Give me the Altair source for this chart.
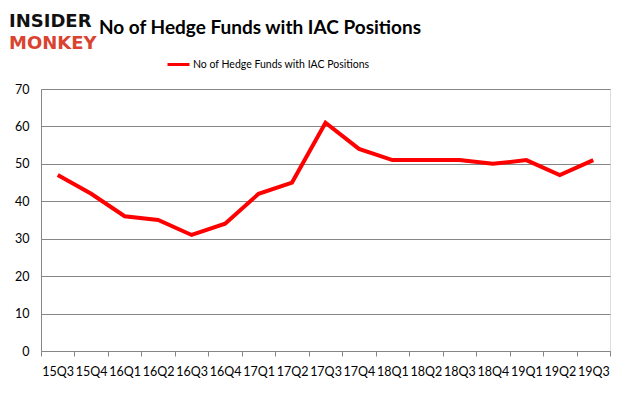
import altair as alt
import pandas as pd

quarters = ["15Q3", "15Q4", "16Q1", "16Q2", "16Q3", "16Q4", "17Q1", "17Q2", "17Q3",
            "17Q4", "18Q1", "18Q2", "18Q3", "18Q4", "19Q1", "19Q2", "19Q3"]
funds = [47, 42, 36, 35, 31, 34, 42, 45, 61, 54, 51, 51, 51, 50, 51, 47, 51]
series_name = "No of Hedge Funds with IAC Positions"
title_text = "No of Hedge Funds with IAC Positions"
y_ticks = [0, 10, 20, 30, 40, 50, 60, 70]

df = pd.DataFrame({"quarter": quarters, "funds": funds, "series": [series_name] * len(quarters)})

FONT = "Lato"

line = alt.Chart(df).mark_line(strokeWidth=4, color="#ff0000").encode(
    x=alt.X("quarter:N", sort=quarters, bandPosition=0.5,
            scale=alt.Scale(type="band", paddingInner=0, paddingOuter=0),
            axis=alt.Axis(title=None, labelAngle=0, tickBand="extent", grid=False,
                          domainColor="#868686", tickColor="#868686", tickSize=5,
                          labelPadding=9, labelFont=FONT, labelFontSize=12.5,
                          labelColor="#000000")),
    y=alt.Y("funds:Q", scale=alt.Scale(domain=[0, 70], nice=False),
            axis=alt.Axis(title=None, values=y_ticks, grid=True, gridColor="#868686",
                          domainColor="#868686", ticks=False, labelPadding=12,
                          labelFont=FONT, labelFontSize=12.5, labelColor="#000000")),
    color=alt.Color("series:N",
                    scale=alt.Scale(domain=[series_name], range=["#ff0000"]),
                    legend=alt.Legend(title=None, orient="none", legendX=125, legendY=-37,
                                      symbolType="stroke", symbolSize=484,
                                      symbolStrokeWidth=3, padding=0, symbolOffset=0,
                                      labelFont=FONT, labelFontSize=10.5, labelOffset=2,
                                      labelLimit=0, labelColor="#000000")),
)

deco = pd.DataFrame({"t": [title_text]})
title = alt.Chart(deco).mark_text(font=FONT, fontSize=19, fontWeight="bold",
                                  align="center", baseline="alphabetic", color="#000000").encode(
    text="t:N", x=alt.value(219), y=alt.value(-55))

logo1 = alt.Chart(pd.DataFrame({"t": ["INSIDER"]})).mark_text(
    font="DejaVu Sans", fontSize=18, fontWeight="bold", align="left",
    baseline="alphabetic", color="#111111").encode(text="t:N", x=alt.value(-32), y=alt.value(-62))
logo2 = alt.Chart(pd.DataFrame({"t": ["MONKEY"]})).mark_text(
    font="DejaVu Sans", fontSize=18, fontWeight="bold", align="left",
    baseline="alphabetic", color="#d9432f").encode(text="t:N", x=alt.value(-32), y=alt.value(-40))

chart = alt.layer(line, title, logo1, logo2).properties(
    width=569, height=262,
    padding={"left": 33, "top": 81, "right": 8, "bottom": 30},
    autosize=alt.AutoSizeParams(type="none"),
).configure_view(stroke=None).configure(background="#ffffff")

chart.save("out.html", embed_options={"renderer": "svg", "actions": False})
